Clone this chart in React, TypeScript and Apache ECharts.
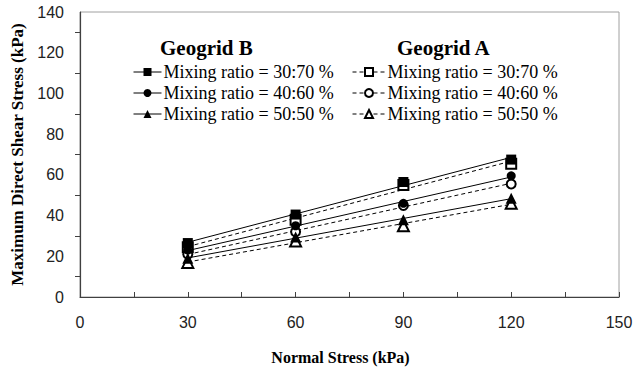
import React, { useEffect, useRef } from "react";
import * as echarts from "echarts";

// Normal stress levels (kPa)
const normalStress = [30, 60, 90, 120];

// Maximum direct shear stress (kPa) — Geogrid B (filled markers, solid trend lines)
const geogridB_30_70 = [26.5, 40.5, 56.5, 67.5];
const geogridB_40_60 = [23, 35, 46, 59.5];
const geogridB_50_50 = [19, 29.5, 38, 48.5];

// Maximum direct shear stress (kPa) — Geogrid A (hollow markers, dashed trend lines)
const geogridA_30_70 = [24.5, 38, 55, 65.5];
const geogridA_40_60 = [21, 32, 45, 55.5];
const geogridA_50_50 = [17, 27.5, 35, 46];

const ratioLabels = ["30:70", "40:60", "50:50"];

const serif = "'Liberation Serif', 'Times New Roman', serif";
const sans = "'Liberation Sans', Arial, sans-serif";

function pairs(ys: number[]) {
  return normalStress.map((x, i) => [x, ys[i]]);
}

// Least-squares trend line through the measured points, spanning the tested range
function trend(ys: number[]) {
  const n = normalStress.length;
  const mx = normalStress.reduce((a, b) => a + b, 0) / n;
  const my = ys.reduce((a, b) => a + b, 0) / n;
  let sxy = 0;
  let sxx = 0;
  normalStress.forEach((x, i) => {
    sxy += (x - mx) * (ys[i] - my);
    sxx += (x - mx) * (x - mx);
  });
  const slope = sxy / sxx;
  const icpt = my - slope * mx;
  const x0 = normalStress[0];
  const x1 = normalStress[n - 1];
  return [
    [x0, icpt + slope * x0],
    [x1, icpt + slope * x1],
  ];
}

export default function App() {
  const ref = useRef<HTMLDivElement>(null);

  useEffect(() => {
    if (!ref.current) return;
    const chart = echarts.init(ref.current, undefined, { renderer: "svg" });

    const bSets = [geogridB_30_70, geogridB_40_60, geogridB_50_50];
    const aSets = [geogridA_30_70, geogridA_40_60, geogridA_50_50];
    const filledSymbols = ["rect", "circle", "triangle"];
    const hollowSymbols = ["emptyRect", "emptyCircle", "emptyTriangle"];
    const sizes = [10, 9, 11];
    const dash = [4, 3];

    const labelOf: Record<string, string> = {};
    const bNames: string[] = [];
    const aNames: string[] = [];
    const series: any[] = [];

    const addGroup = (
      prefix: string,
      sets: number[][],
      symbols: string[],
      lineType: any,
      names: string[],
      z: number
    ) => {
      ratioLabels.forEach((r, i) => {
        const name = prefix + " " + r;
        names.push(name);
        labelOf[name] = "Mixing ratio = " + r + " %";
        series.push({
          type: "line",
          data: trend(sets[i]),
          symbol: "none",
          silent: true,
          lineStyle: { color: "#000", width: 1, type: lineType },
          z: 1,
        });
        series.push({
          name,
          type: "line",
          data: pairs(sets[i]),
          symbol: symbols[i],
          symbolSize: sizes[i],
          lineStyle: { opacity: 0 },
          itemStyle: { color: "#000", borderWidth: 1.2 },
          z,
        });
      });
    };

    addGroup("A", aSets, hollowSymbols, dash, aNames, 3);
    addGroup("B", bSets, filledSymbols, "solid", bNames, 4);

    const legendCommon = {
      orient: "vertical",
      padding: 0,
      itemHeight: 10,
      itemGap: 3,
      textStyle: {
        fontFamily: serif,
        fontSize: 18,
        lineHeight: 18,
        color: "#000",
        padding: [0, 0, 0, -3],
      },
      formatter: (n: string) => labelOf[n],
    };

    chart.setOption({
      animation: false,
      backgroundColor: "#fff",
      grid: {
        left: 80,
        right: 14,
        top: 12,
        bottom: 72,
        outerBoundsMode: "none",
        containLabel: false,
        show: true,
        borderColor: "#a0a0a0",
        borderWidth: 1,
      },
      legend: [
        {
          ...legendCommon,
          data: bNames,
          left: 133,
          top: 63,
          itemWidth: 28,
          lineStyle: { color: "#000", width: 1, type: "solid", opacity: 1 },
        },
        {
          ...legendCommon,
          data: aNames,
          left: 352,
          top: 63,
          itemWidth: 33,
          lineStyle: { color: "#000", width: 1, type: dash, opacity: 1 },
        },
      ],
      graphic: [
        {
          type: "text",
          left: 160,
          top: 37,
          style: { text: "Geogrid B", font: `bold 21px ${serif}`, fill: "#000" },
        },
        {
          type: "text",
          left: 397,
          top: 37,
          style: { text: "Geogrid A", font: `bold 21px ${serif}`, fill: "#000" },
        },
      ],
      xAxis: {
        type: "value",
        min: 0,
        max: 150,
        interval: 30,
        name: "Normal Stress (kPa)",
        nameLocation: "middle",
        nameGap: 52,
        nameTextStyle: {
          fontFamily: serif,
          fontWeight: "bold",
          fontSize: 16,
          color: "#000",
          padding: [0, 18, 0, 0],
        },
        axisLine: { show: true, lineStyle: { color: "#404040", width: 1.2 } },
        axisTick: { show: true, inside: true, length: 5, lineStyle: { color: "#404040" } },
        minorTick: { show: true, splitNumber: 2, length: 5, lineStyle: { color: "#404040" } },
        splitLine: { show: false },
        axisLabel: { fontFamily: sans, fontSize: 16, color: "#222", margin: 17 },
      },
      yAxis: {
        type: "value",
        min: 0,
        max: 140,
        interval: 20,
        name: "Maximum Direct Shear Stress (kPa)",
        nameLocation: "middle",
        nameGap: 53,
        nameTextStyle: {
          fontFamily: serif,
          fontWeight: "bold",
          fontSize: 17,
          color: "#000",
        },
        axisLine: { show: true, lineStyle: { color: "#404040", width: 1.2 } },
        axisTick: { show: false },
        minorTick: { show: true, splitNumber: 2, length: 5, lineStyle: { color: "#404040" } },
        splitLine: { show: false },
        axisLabel: { fontFamily: sans, fontSize: 16, color: "#222", margin: 16 },
      },
      series,
    });

    return () => chart.dispose();
  }, []);

  return (
    <div
      ref={ref}
      style={{ position: "absolute", left: 0, top: 0, width: 633, height: 369 }}
    />
  );
}
